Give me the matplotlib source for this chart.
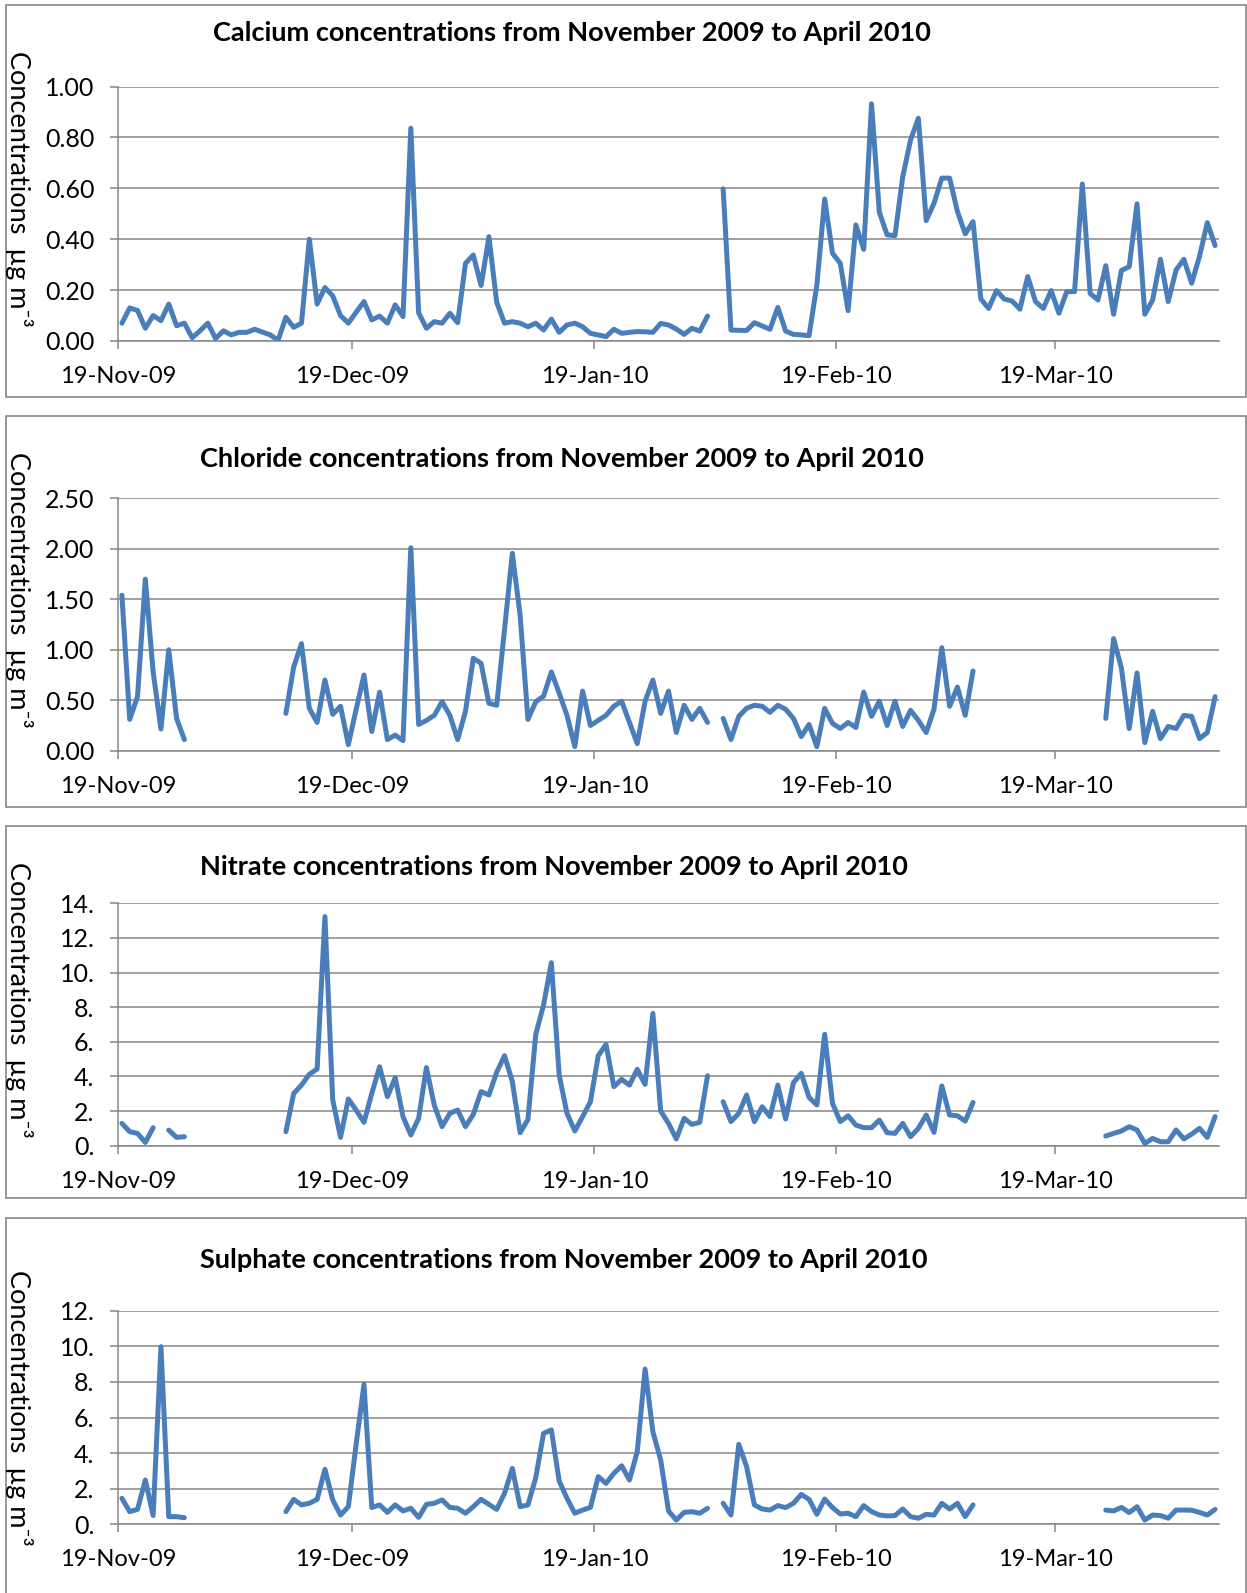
import numpy as np
import pandas as pd
import matplotlib
matplotlib.use('Agg')
import matplotlib.pyplot as plt
import matplotlib.dates as mdates
from matplotlib.patches import Rectangle
from matplotlib.ticker import FuncFormatter

nan = np.nan

# daily samples, 19 Nov 2009 .. 8 Apr 2010 (ug m-3), gaps = no sample
dates = pd.date_range('2009-11-19', periods=141, freq='D')

calcium = [
    0.07, 0.13, 0.12, 0.05, 0.10, 0.08, 0.145, 0.06, 0.07, 0.013,
    0.04, 0.07, 0.01, 0.04, 0.024, 0.034, 0.034, 0.046, 0.035, 0.024,
    0.003, 0.093, 0.054, 0.07, 0.40, 0.145, 0.21, 0.177, 0.10, 0.07,
    0.113, 0.155, 0.083, 0.098, 0.07, 0.142, 0.096, 0.836, 0.111, 0.05,
    0.076, 0.07, 0.109, 0.072, 0.305, 0.338, 0.218, 0.41, 0.152, 0.07,
    0.076, 0.07, 0.056, 0.07, 0.043, 0.086, 0.034, 0.063, 0.07, 0.056,
    0.03, 0.024, 0.017, 0.046, 0.03, 0.034, 0.037, 0.036, 0.034, 0.069,
    0.063, 0.047, 0.026, 0.05, 0.039, 0.098, nan, 0.598, 0.043, 0.042,
    0.041, 0.072, 0.059, 0.046, 0.132, 0.039, 0.026, 0.024, 0.021, 0.22,
    0.558, 0.345, 0.305, 0.119, 0.456, 0.36, 0.932, 0.506, 0.417, 0.414,
    0.646, 0.79, 0.875, 0.473, 0.541, 0.64, 0.64, 0.509, 0.421, 0.469,
    0.165, 0.128, 0.198, 0.165, 0.157, 0.125, 0.253, 0.155, 0.128, 0.198,
    0.109, 0.194, 0.194, 0.617, 0.187, 0.161, 0.296, 0.105, 0.277, 0.292,
    0.539, 0.105, 0.161, 0.321, 0.155, 0.279, 0.321, 0.227, 0.332, 0.465, 0.375,
]

chloride = [
    1.54, 0.31, 0.535, 1.70, 0.78, 0.215, 1.00, 0.32, 0.11, nan,
    nan, nan, nan, nan, nan, nan, nan, nan, nan, nan,
    nan, 0.37, 0.83, 1.06, 0.42, 0.28, 0.70, 0.36, 0.44, 0.06,
    0.41, 0.75, 0.19, 0.58, 0.11, 0.155, 0.10, 2.01, 0.26, 0.30,
    0.35, 0.485, 0.35, 0.11, 0.39, 0.915, 0.865, 0.47, 0.45, 1.2,
    1.955, 1.34, 0.31, 0.485, 0.54, 0.78, 0.57, 0.35, 0.04, 0.59,
    0.25, 0.30, 0.35, 0.44, 0.49, 0.28, 0.07, 0.49, 0.70, 0.37,
    0.59, 0.18, 0.45, 0.31, 0.42, 0.28, nan, 0.32, 0.11, 0.34,
    0.42, 0.45, 0.44, 0.38, 0.45, 0.41, 0.32, 0.14, 0.26, 0.04,
    0.42, 0.27, 0.22, 0.28, 0.23, 0.58, 0.34, 0.49, 0.25, 0.49,
    0.24, 0.40, 0.30, 0.18, 0.41, 1.02, 0.44, 0.63, 0.35, 0.79,
    nan, nan, nan, nan, nan, nan, nan, nan, nan, nan,
    nan, nan, nan, nan, nan, nan, 0.32, 1.11, 0.82, 0.22,
    0.77, 0.08, 0.39, 0.12, 0.24, 0.22, 0.35, 0.34, 0.12, 0.18, 0.535,
]

nitrate = [
    1.29, 0.81, 0.71, 0.19, 1.04, nan, 0.90, 0.48, 0.52, nan,
    nan, nan, nan, nan, nan, nan, nan, nan, nan, nan,
    nan, 0.81, 3.02, 3.50, 4.12, 4.43, 13.23, 2.64, 0.48, 2.70,
    2.06, 1.35, 3.02, 4.56, 2.83, 3.93, 1.68, 0.62, 1.58, 4.51,
    2.35, 1.10, 1.87, 2.06, 1.10, 1.81, 3.12, 2.93, 4.24, 5.20,
    3.70, 0.75, 1.52, 6.43, 8.13, 10.57, 4.08, 1.87, 0.85, 1.68,
    2.54, 5.20, 5.85, 3.41, 3.83, 3.50, 4.41, 3.54, 7.64, 2.00,
    1.29, 0.39, 1.58, 1.23, 1.35, 4.04, nan, 2.54, 1.39, 1.87,
    2.93, 1.39, 2.25, 1.68, 3.50, 1.54, 3.64, 4.18, 2.79, 2.35,
    6.43, 2.45, 1.39, 1.73, 1.19, 1.04, 1.04, 1.48, 0.75, 0.71,
    1.29, 0.52, 1.00, 1.77, 0.77, 3.45, 1.77, 1.73, 1.42, 2.50,
    nan, nan, nan, nan, nan, nan, nan, nan, nan, nan,
    nan, nan, nan, nan, nan, nan, 0.56, 0.71, 0.85, 1.10,
    0.91, 0.13, 0.42, 0.23, 0.23, 0.91, 0.39, 0.67, 1.00, 0.48, 1.68,
]

sulphate = [
    1.46, 0.71, 0.84, 2.49, 0.49, 9.98, 0.43, 0.43, 0.37, nan,
    nan, nan, nan, nan, nan, nan, nan, nan, nan, nan,
    nan, 0.71, 1.40, 1.09, 1.18, 1.40, 3.09, 1.37, 0.52, 0.99,
    4.50, 7.86, 0.94, 1.09, 0.67, 1.09, 0.75, 0.90, 0.39, 1.12,
    1.18, 1.37, 0.95, 0.90, 0.62, 0.99, 1.40, 1.12, 0.84, 1.74,
    3.14, 0.99, 1.09, 2.62, 5.11, 5.30, 2.43, 1.46, 0.62, 0.80,
    0.95, 2.68, 2.30, 2.86, 3.29, 2.49, 4.08, 8.72, 5.20, 3.61,
    0.75, 0.24, 0.67, 0.71, 0.62, 0.90, nan, 1.18, 0.52, 4.49,
    3.24, 1.09, 0.86, 0.80, 1.05, 0.94, 1.18, 1.68, 1.40, 0.56,
    1.42, 0.94, 0.58, 0.62, 0.43, 1.05, 0.71, 0.52, 0.47, 0.49,
    0.86, 0.43, 0.34, 0.56, 0.52, 1.18, 0.86, 1.18, 0.43, 1.09,
    nan, nan, nan, nan, nan, nan, nan, nan, nan, nan,
    nan, nan, nan, nan, nan, nan, 0.80, 0.75, 0.95, 0.66,
    0.99, 0.24, 0.52, 0.49, 0.34, 0.80, 0.80, 0.79, 0.67, 0.52, 0.84,
]

titles = [
    'Calcium concentrations from November 2009 to April 2010',
    'Chloride concentrations from November 2009 to April 2010',
    'Nitrate concentrations from November 2009 to April 2010',
    'Sulphate concentrations from November 2009 to April 2010',
]
series = [calcium, chloride, nitrate, sulphate]
y_max = [1.0, 2.5, 14, 12]
y_step = [0.2, 0.5, 2, 2]
ylabel = 'Concentrations  µg m⁻³'

W, H = 1247, 1593
BLUE = '#4A7EBB'
GREY = '#868686'

plt.rcParams['font.family'] = ['Lato', 'DejaVu Sans']

fig = plt.figure(figsize=(W / 100, H / 100), dpi=100)

# pixel layout of each chart: frame top/bottom, plot top/bottom,
# title left/centre-y, y-label top
layout = [
    dict(frame=(5, 397), plot=(86.5, 341), title=(213, 33), lab=51),
    dict(frame=(416, 807), plot=(498.3, 750.7), title=(200, 459), lab=452),
    dict(frame=(826, 1198), plot=(903.3, 1145.7), title=(200, 867), lab=862),
    dict(frame=(1218, 1620), plot=(1310.7, 1524.3), title=(200, 1260), lab=1270),
]
PLOT_L, PLOT_R = 118, 1219


def fmt_two(v, pos):
    return '{:.2f}'.format(v)


def fmt_trunc(v, pos):
    return '{:.0f}.'.format(v)


formatters = [fmt_two, fmt_two, fmt_trunc, fmt_trunc]

for i in range(4):
    lay = layout[i]
    ft, fb = lay['frame']
    fig.add_artist(Rectangle((6 / W, 1 - fb / H), (1246 - 6) / W, (fb - ft) / H,
                             fill=False, ec=GREY, lw=1.2,
                             transform=fig.transFigure))

    pt, pb = lay['plot']
    ax = fig.add_axes([PLOT_L / W, 1 - pb / H, (PLOT_R - PLOT_L) / W, (pb - pt) / H])

    # points sit in the middle of each day slot
    ax.plot(dates + pd.Timedelta(hours=12), series[i], color=BLUE, lw=3.6,
            solid_joinstyle='round', solid_capstyle='round', zorder=3)

    ax.set_xlim(dates[0], dates[-1] + pd.Timedelta(days=1))
    ax.set_ylim(0, y_max[i])
    ax.set_yticks(np.arange(0, y_max[i] + y_step[i] / 2, y_step[i]))
    ax.yaxis.set_major_formatter(FuncFormatter(formatters[i]))
    ax.xaxis.set_major_locator(mdates.MonthLocator(bymonthday=19))
    ax.xaxis.set_major_formatter(mdates.DateFormatter('%d-%b-%y'))

    ax.grid(axis='y', color=GREY, lw=1.1)
    ax.set_axisbelow(True)
    for s in ['top', 'right']:
        ax.spines[s].set_visible(False)
    for s in ['left', 'bottom']:
        ax.spines[s].set_color(GREY)
        ax.spines[s].set_linewidth(1.1)
    ax.tick_params(axis='y', length=6, width=1.1, color=GREY, pad=11, labelsize=18)
    ax.tick_params(axis='x', length=6, width=1.1, color=GREY, pad=12, labelsize=17)

    tx, ty = lay['title']
    fig.text(tx / W, 1 - ty / H, titles[i], ha='left', va='center',
             fontsize=19.5, fontweight='bold')
    fig.text(19 / W, 1 - lay['lab'] / H, ylabel, rotation=-90,
             ha='center', va='top', fontsize=19.5)

fig.savefig('out.png', dpi=100)
